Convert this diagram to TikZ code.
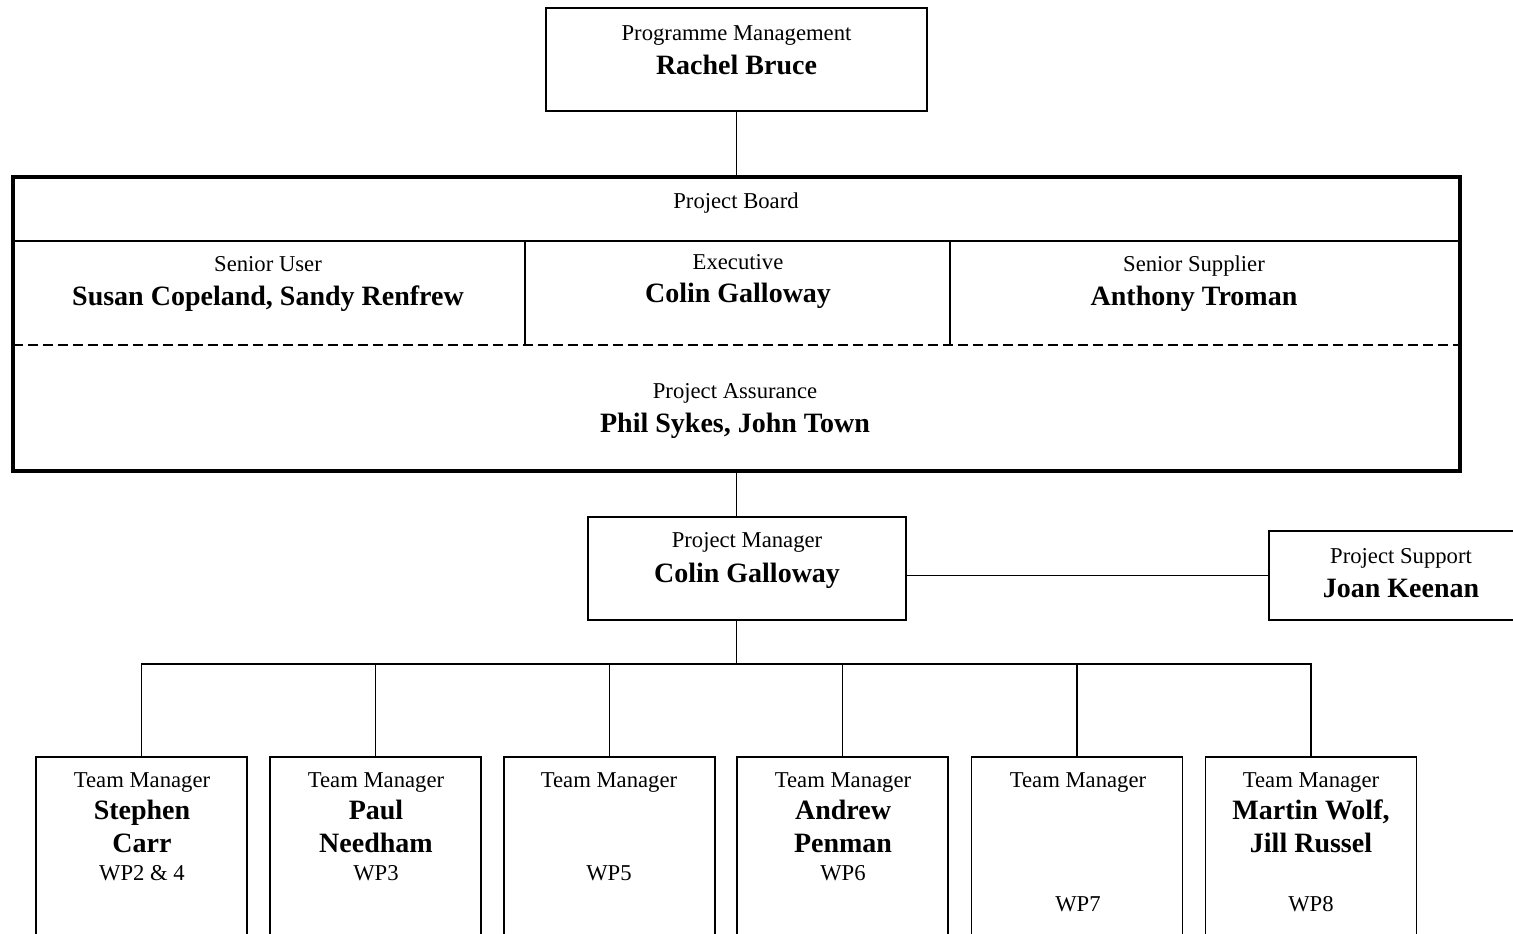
\documentclass[tikz,border=0pt]{standalone}
\usepackage{fontspec}
\setmainfont{Liberation Serif}
\begin{document}
\begin{tikzpicture}[x=0.75pt,y=-0.75pt,
  box/.style={draw, line width=1pt, inner sep=0pt, fill=none},
  thin/.style={line width=1pt},
  lbl/.style={font=\fontsize{17}{20}\selectfont, anchor=base, inner sep=0pt},
  nm/.style={font=\fontsize{21}{25}\selectfont\bfseries, anchor=base, inner sep=0pt},
  teambox/.style={box, minimum width=158.25pt, minimum height=144.75pt}]
\useasboundingbox (0,0) rectangle (1513,933);
\clip (0,0) rectangle (1513,933);
\fill[white] (0,0) rectangle (1513,933);
% boxes
\node[box, minimum width=285.75pt, minimum height=77.25pt] (pm) at (736.5,59.5) {};
\node[draw, line width=3.2pt, inner sep=0pt, minimum width=1085.25pt, minimum height=220.5pt] (board) at (736.5,324) {};
\node[box, minimum width=238.5pt, minimum height=77.25pt] (projmgr) at (747,568.5) {};
\node[box, minimum width=195.75pt, minimum height=66.75pt] (support) at (1399.5,575.5) {};
\node[teambox] (t1) at (141.5,853.5) {};
\node[teambox] (t2) at (375.5,853.5) {};
\node[teambox] (t3) at (609.5,853.5) {};
\node[teambox] (t4) at (842.5,853.5) {};
\node[teambox] (t5) at (1077,853.5) {};
\node[teambox] (t6) at (1311,853.5) {};
% board inner lines
\coordinate (hl) at (13,241);
\coordinate (hr) at (1460,241);
\coordinate (dl) at (13,345);
\coordinate (dr) at (1460,345);
\draw[thin] (hl) -- (hr);
\draw[thin, dash pattern=on 7.5pt off 3.75pt] (dl) -- (dr);
\draw[thin] (525,241) -- (525,345);
\draw[thin] (950,241) -- (950,345);
% texts
\node[lbl] (pmt) at (736.5,40) {Programme Management};
\node[nm] (pmn) at (736.5,74) {Rachel Bruce};
\node[lbl] (pbt) at (736,208) {Project Board};
\node[lbl] (sut) at (268,271) {Senior User};
\node[nm] (sun) at (268,305) {Susan Copeland, Sandy Renfrew};
\node[lbl] (ext) at (738,269) {Executive};
\node[nm] (exn) at (738,302) {Colin Galloway};
\node[lbl] (sst) at (1194,271) {Senior Supplier};
\node[nm] (ssn) at (1194,305) {Anthony Troman};
\node[lbl] (pat) at (735,398) {Project Assurance};
\node[nm] (pan) at (735,432) {Phil Sykes, John Town};
\node[lbl] (pjt) at (747,547) {Project Manager};
\node[nm] (pjn) at (747,582) {Colin Galloway};
\node[lbl] (pst) at (1401,563) {Project Support};
\node[nm] (psn) at (1401,597) {Joan Keenan};
\foreach \n/\x in {1/142,2/376,3/609,4/843,5/1078,6/1311}
  \node[lbl] (tm\n) at (\x,787) {Team Manager};
\node[nm] (a1) at (142,819) {Stephen};
\node[nm] (b1) at (142,852) {Carr};
\node[lbl] (w1) at (142,880) {WP2 \& 4};
\node[nm] (a2) at (376,819) {Paul};
\node[nm] (b2) at (376,852) {Needham};
\node[lbl] (w2) at (376,880) {WP3};
\node[lbl] (w3) at (609,880) {WP5};
\node[nm] (a4) at (843,819) {Andrew};
\node[nm] (b4) at (843,852) {Penman};
\node[lbl] (w4) at (843,880) {WP6};
\node[lbl] (w5) at (1078,911) {WP7};
\node[nm] (a6) at (1311,819) {Martin Wolf,};
\node[nm] (b6) at (1311,852) {Jill Russel};
\node[lbl] (w6) at (1311,911) {WP8};
% connectors
\draw[thin] (pm.south) -- (board.north);
\draw[thin] (board.south) -- (board.south |- projmgr.north);
\draw[thin] (projmgr.east |- support.west) -- (support.west);
\coordinate (bus) at (736.5,664);
\draw[thin] (board.south |- projmgr.south) -- (bus);
\draw[thin] (t1.north) |- (t6.north |- bus) -- (t6.north);
\draw[thin] (t2.north) -- (t2.north |- bus);
\draw[thin] (t3.north) -- (t3.north |- bus);
\draw[thin] (t4.north) -- (t4.north |- bus);
\draw[thin] (t5.north) -- (t5.north |- bus);
\end{tikzpicture}
\end{document}
